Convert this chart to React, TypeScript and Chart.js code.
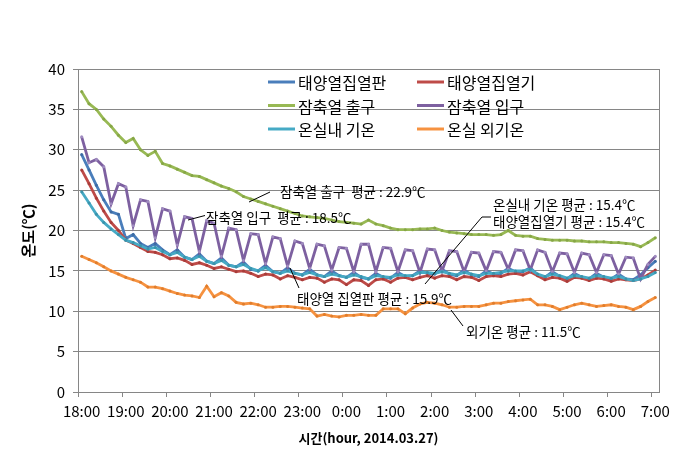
import React, { useEffect, useRef } from 'react';
import { Chart, registerables } from 'chart.js';
Chart.register(...registerables);

// categories: every 10 minutes from 18:00 to 7:00
const times: string[] = [];
for (let i = 0; i < 79; i++) {
  const m = i * 10;
  const h = (18 + Math.floor(m / 60)) % 24;
  times.push(`${h}:${String(m % 60).padStart(2, '0')}`);
}

const yTicks = [0, 5, 10, 15, 20, 25, 30, 35, 40];

const solarPanel = [29.4, 27.5, 25.6, 23.8, 22.3, 22.0, 19.0, 19.5, 18.4, 17.9, 18.4, 17.6, 17.0, 17.6, 16.7, 16.4, 17.1, 16.2, 15.9, 16.6,
  15.7, 15.5, 16.1, 15.2, 15.0, 15.7, 14.9, 14.7, 15.4, 14.7, 14.5, 15.2, 14.5, 14.3, 15.0, 14.4, 14.2, 14.8, 14.2, 14.0,
  14.7, 14.2, 14.1, 14.8, 14.3, 14.4, 15.0, 14.7, 14.6, 15.2, 14.6, 14.4, 15.1, 14.5, 14.3, 15.0, 14.6, 14.7, 15.3, 14.9,
  14.9, 15.4, 14.5, 14.2, 14.9, 14.3, 14.0, 14.7, 14.2, 14.0, 14.7, 14.2, 14.0, 14.6, 14.0, 13.9, 14.5, 15.4, 16.2];
const solarCollector = [27.5, 25.8, 24.0, 22.4, 21.0, 20.0, 18.8, 18.4, 17.9, 17.4, 17.3, 17.0, 16.5, 16.6, 16.3, 15.8, 16.0, 15.7, 15.3, 15.5,
  15.2, 14.9, 15.0, 14.7, 14.3, 14.6, 14.5, 14.0, 14.4, 14.2, 13.9, 14.2, 14.1, 13.6, 14.0, 13.9, 13.3, 13.9, 13.8, 13.2,
  13.9, 14.0, 13.6, 14.1, 14.2, 13.9, 14.2, 14.4, 14.1, 14.4, 14.3, 13.9, 14.3, 14.2, 13.8, 14.3, 14.4, 14.3, 14.6, 14.7,
  14.5, 14.9, 14.4, 13.9, 14.2, 14.1, 13.7, 14.2, 14.1, 13.8, 14.1, 14.0, 13.7, 14.0, 13.9, 13.8, 14.0, 14.5, 15.1];
const storageOut = [37.2, 35.7, 35.0, 33.8, 32.9, 31.8, 30.9, 31.4, 30.0, 29.3, 29.8, 28.3, 28.0, 27.6, 27.2, 26.8, 26.7, 26.3, 25.9, 25.5,
  25.2, 24.8, 24.2, 23.9, 23.6, 23.3, 23.0, 22.7, 22.4, 22.1, 21.8, 21.7, 21.6, 21.5, 21.3, 21.1, 21.0, 20.9, 20.8, 21.3,
  20.8, 20.6, 20.3, 20.1, 20.1, 20.1, 20.2, 20.2, 20.3, 20.0, 19.8, 19.7, 19.6, 19.5, 19.5, 19.5, 19.4, 19.5, 20.0, 19.4,
  19.3, 19.3, 19.0, 18.9, 18.8, 18.8, 18.8, 18.7, 18.7, 18.6, 18.6, 18.6, 18.5, 18.5, 18.4, 18.3, 18.0, 18.5, 19.1];
const storageIn = [31.6, 28.4, 28.8, 27.9, 23.3, 25.8, 25.4, 20.6, 23.8, 23.6, 19.1, 22.7, 22.4, 18.2, 21.7, 21.5, 17.4, 21.2, 20.9, 16.8,
  20.3, 20.1, 16.3, 19.6, 19.5, 15.9, 19.2, 19.0, 15.6, 18.7, 18.4, 15.3, 18.3, 18.1, 15.1, 17.9, 17.8, 14.9, 18.3, 18.3,
  14.9, 17.9, 17.8, 14.9, 17.6, 17.5, 14.8, 17.7, 17.6, 15.0, 17.5, 17.4, 14.9, 17.3, 17.2, 15.0, 17.4, 17.3, 15.2, 17.6,
  17.5, 15.1, 17.6, 17.3, 14.9, 17.2, 17.1, 14.8, 17.2, 17.0, 14.8, 17.0, 16.9, 14.6, 16.7, 16.6, 14.0, 15.8, 16.8];
const indoorAir = [24.8, 23.4, 22.0, 21.0, 20.2, 19.5, 18.8, 18.5, 18.1, 17.7, 17.9, 17.4, 17.0, 17.3, 16.7, 16.4, 16.8, 16.2, 15.9, 16.3,
  15.7, 15.5, 15.8, 15.3, 15.0, 15.4, 14.9, 14.7, 15.0, 14.7, 14.5, 14.8, 14.5, 14.3, 14.6, 14.4, 14.2, 14.5, 14.3, 14.0,
  14.4, 14.3, 14.2, 14.5, 14.4, 14.4, 14.8, 14.8, 14.7, 14.9, 14.7, 14.5, 14.8, 14.6, 14.4, 14.7, 14.7, 14.8, 15.0, 15.0,
  15.0, 15.2, 14.6, 14.3, 14.6, 14.4, 14.1, 14.4, 14.3, 14.1, 14.4, 14.3, 14.1, 14.3, 14.0, 13.8, 14.0, 14.3, 14.8];
const outdoorAir = [16.8, 16.4, 16.0, 15.5, 15.0, 14.6, 14.2, 13.9, 13.6, 13.0, 13.0, 12.8, 12.5, 12.2, 12.0, 11.9, 11.7, 13.1, 11.8, 12.3,
  11.9, 11.1, 10.9, 11.0, 10.8, 10.5, 10.5, 10.6, 10.6, 10.5, 10.4, 10.3, 9.4, 9.6, 9.4, 9.3, 9.5, 9.5, 9.6, 9.5,
  9.5, 10.3, 10.3, 10.3, 9.7, 10.4, 10.9, 11.1, 11.0, 10.8, 10.5, 10.5, 10.6, 10.6, 10.6, 10.8, 11.0, 11.0, 11.2, 11.3,
  11.4, 11.5, 10.8, 10.8, 10.6, 10.2, 10.5, 10.8, 11.0, 10.8, 10.6, 10.7, 10.8, 10.6, 10.5, 10.2, 10.6, 11.2, 11.7];

const seriesNames = ['태양열집열판', '태양열집열기', '잠축열 출구', '잠축열 입구', '온실내 기온', '온실 외기온'];
const seriesData = [solarPanel, solarCollector, storageOut, storageIn, indoorAir, outdoorAir];
const seriesColors = ['#4A7EBB', '#BE4B48', '#98B954', '#7D60A0', '#46AAC5', '#F69240'];
const markerColors = ['#3c6aa3', '#a83c39', '#86a646', '#a08cc0', '#3a93ab', '#e07d2c'];

const annotations = [
  { text: '잠축열 출구  평균 : 22.9℃', x: 280, y: 192, line: [[249, 202], [270, 192]] },
  { text: '잠축열 입구  평균 : 18.5℃', x: 206, y: 218, line: [[188, 220], [205, 215.5]] },
  { text: '온실내 기온 평균 : 15.4℃', x: 493, y: 205, line: [] as number[][] },
  { text: '태양열집열기 평균 : 15.4℃', x: 493, y: 221.5, line: [[425, 284], [482, 217], [491, 217]] },
  { text: '태양열 집열판 평균 : 15.9℃', x: 297, y: 299, line: [[290, 268], [299, 288]] },
  { text: '외기온 평균 : 11.5℃', x: 466, y: 332, line: [[451, 310], [463, 326]] },
];

const GRID = '#868686';
const KR = '"Noto Sans CJK KR", "Noto Sans", sans-serif';

const overlay = {
  id: 'overlay',
  afterDatasetsDraw(chart: any) {
    const ctx = chart.ctx as CanvasRenderingContext2D;
    const { left, right, top, bottom } = chart.chartArea;
    ctx.save();
    // plot border right
    ctx.strokeStyle = GRID;
    ctx.lineWidth = 1;
    ctx.beginPath();
    ctx.moveTo(Math.round(right) + 0.5, top);
    ctx.lineTo(Math.round(right) + 0.5, bottom);
    ctx.stroke();

    // legend
    const cols = [268, 417];
    const rows = [82, 105.5, 129];
    ctx.font = `16px ${KR}`;
    ctx.textBaseline = 'middle';
    ctx.textAlign = 'left';
    seriesNames.forEach((n, i) => {
      const cx = cols[i % 2];
      const cy = rows[Math.floor(i / 2)];
      ctx.strokeStyle = seriesColors[i];
      ctx.lineWidth = 3;
      ctx.beginPath();
      ctx.moveTo(cx, cy);
      ctx.lineTo(cx + 27, cy);
      ctx.stroke();
      ctx.fillStyle = '#000';
      ctx.fillText(n, cx + 30, cy + 1);
    });

    // annotations
    ctx.font = `13.5px ${KR}`;
    annotations.forEach((a) => {
      ctx.fillStyle = '#000';
      ctx.fillText(a.text, a.x, a.y);
      if (a.line.length) {
        ctx.strokeStyle = '#000';
        ctx.lineWidth = 1;
        ctx.beginPath();
        a.line.forEach((p, k) => (k === 0 ? ctx.moveTo(p[0], p[1]) : ctx.lineTo(p[0], p[1])));
        ctx.stroke();
      }
    });

    // axis titles
    ctx.font = `bold 15px ${KR}`;
    ctx.textAlign = 'center';
    ctx.save();
    ctx.translate(28, (top + bottom) / 2);
    ctx.rotate(-Math.PI / 2);
    ctx.fillText('온도(℃)', 0, 0);
    ctx.restore();
    ctx.font = `bold 13px ${KR}`;
    ctx.fillText('시간(hour, 2014.03.27)', (left + right) / 2, 438);
    ctx.restore();
  },
};

export default function App() {
  const ref = useRef<HTMLCanvasElement>(null);
  useEffect(() => {
    if (!ref.current) return;
    const chart = new Chart(ref.current, {
      type: 'line',
      data: {
        labels: times,
        datasets: seriesNames.map((name, i) => ({
          label: name,
          data: seriesData[i],
          borderColor: seriesColors[i],
          backgroundColor: seriesColors[i],
          borderWidth: 2.8,
          pointRadius: 1.5,
          pointBorderWidth: 0,
          pointBackgroundColor: markerColors[i],
          tension: 0,
          order: 10 - i,
        })),
      },
      options: {
        responsive: false,
        animation: false,
        layout: { padding: { top: 69, right: 30, left: 0, bottom: 0 } },
        plugins: { legend: { display: false }, tooltip: { enabled: false } },
        scales: {
          x: {
            type: 'category',
            offset: true,
            grid: {
              offset: true,
              drawOnChartArea: false,
              drawTicks: true,
              tickLength: 5,
              color: (c: any) => (c.index % 6 === 0 ? GRID : 'rgba(0,0,0,0)'),
            },
            border: { color: GRID },
            ticks: {
              autoSkip: false,
              maxRotation: 0,
              padding: 5,
              color: '#000',
              font: { family: KR, size: 15 },
              callback: (_v: any, i: number) => (i % 6 === 0 ? times[i] : ''),
            },
            afterFit: (s: any) => {
              s.height = 67;
            },
          },
          y: {
            min: 0,
            max: 40,
            afterBuildTicks: (s: any) => {
              s.ticks = yTicks.map((v) => ({ value: v }));
            },
            ticks: { padding: 8, color: '#000', font: { family: KR, size: 15 } },
            grid: { color: GRID, tickLength: 5 },
            border: { color: GRID },
            afterFit: (s: any) => {
              s.width = 78;
            },
          },
        },
      },
      plugins: [overlay],
    } as any);
    return () => chart.destroy();
  }, []);
  return (
    <div style={{ position: 'absolute', left: 0, top: 0, width: 689, height: 459, background: '#fff' }}>
      <canvas ref={ref} width={689} height={459} />
    </div>
  );
}
